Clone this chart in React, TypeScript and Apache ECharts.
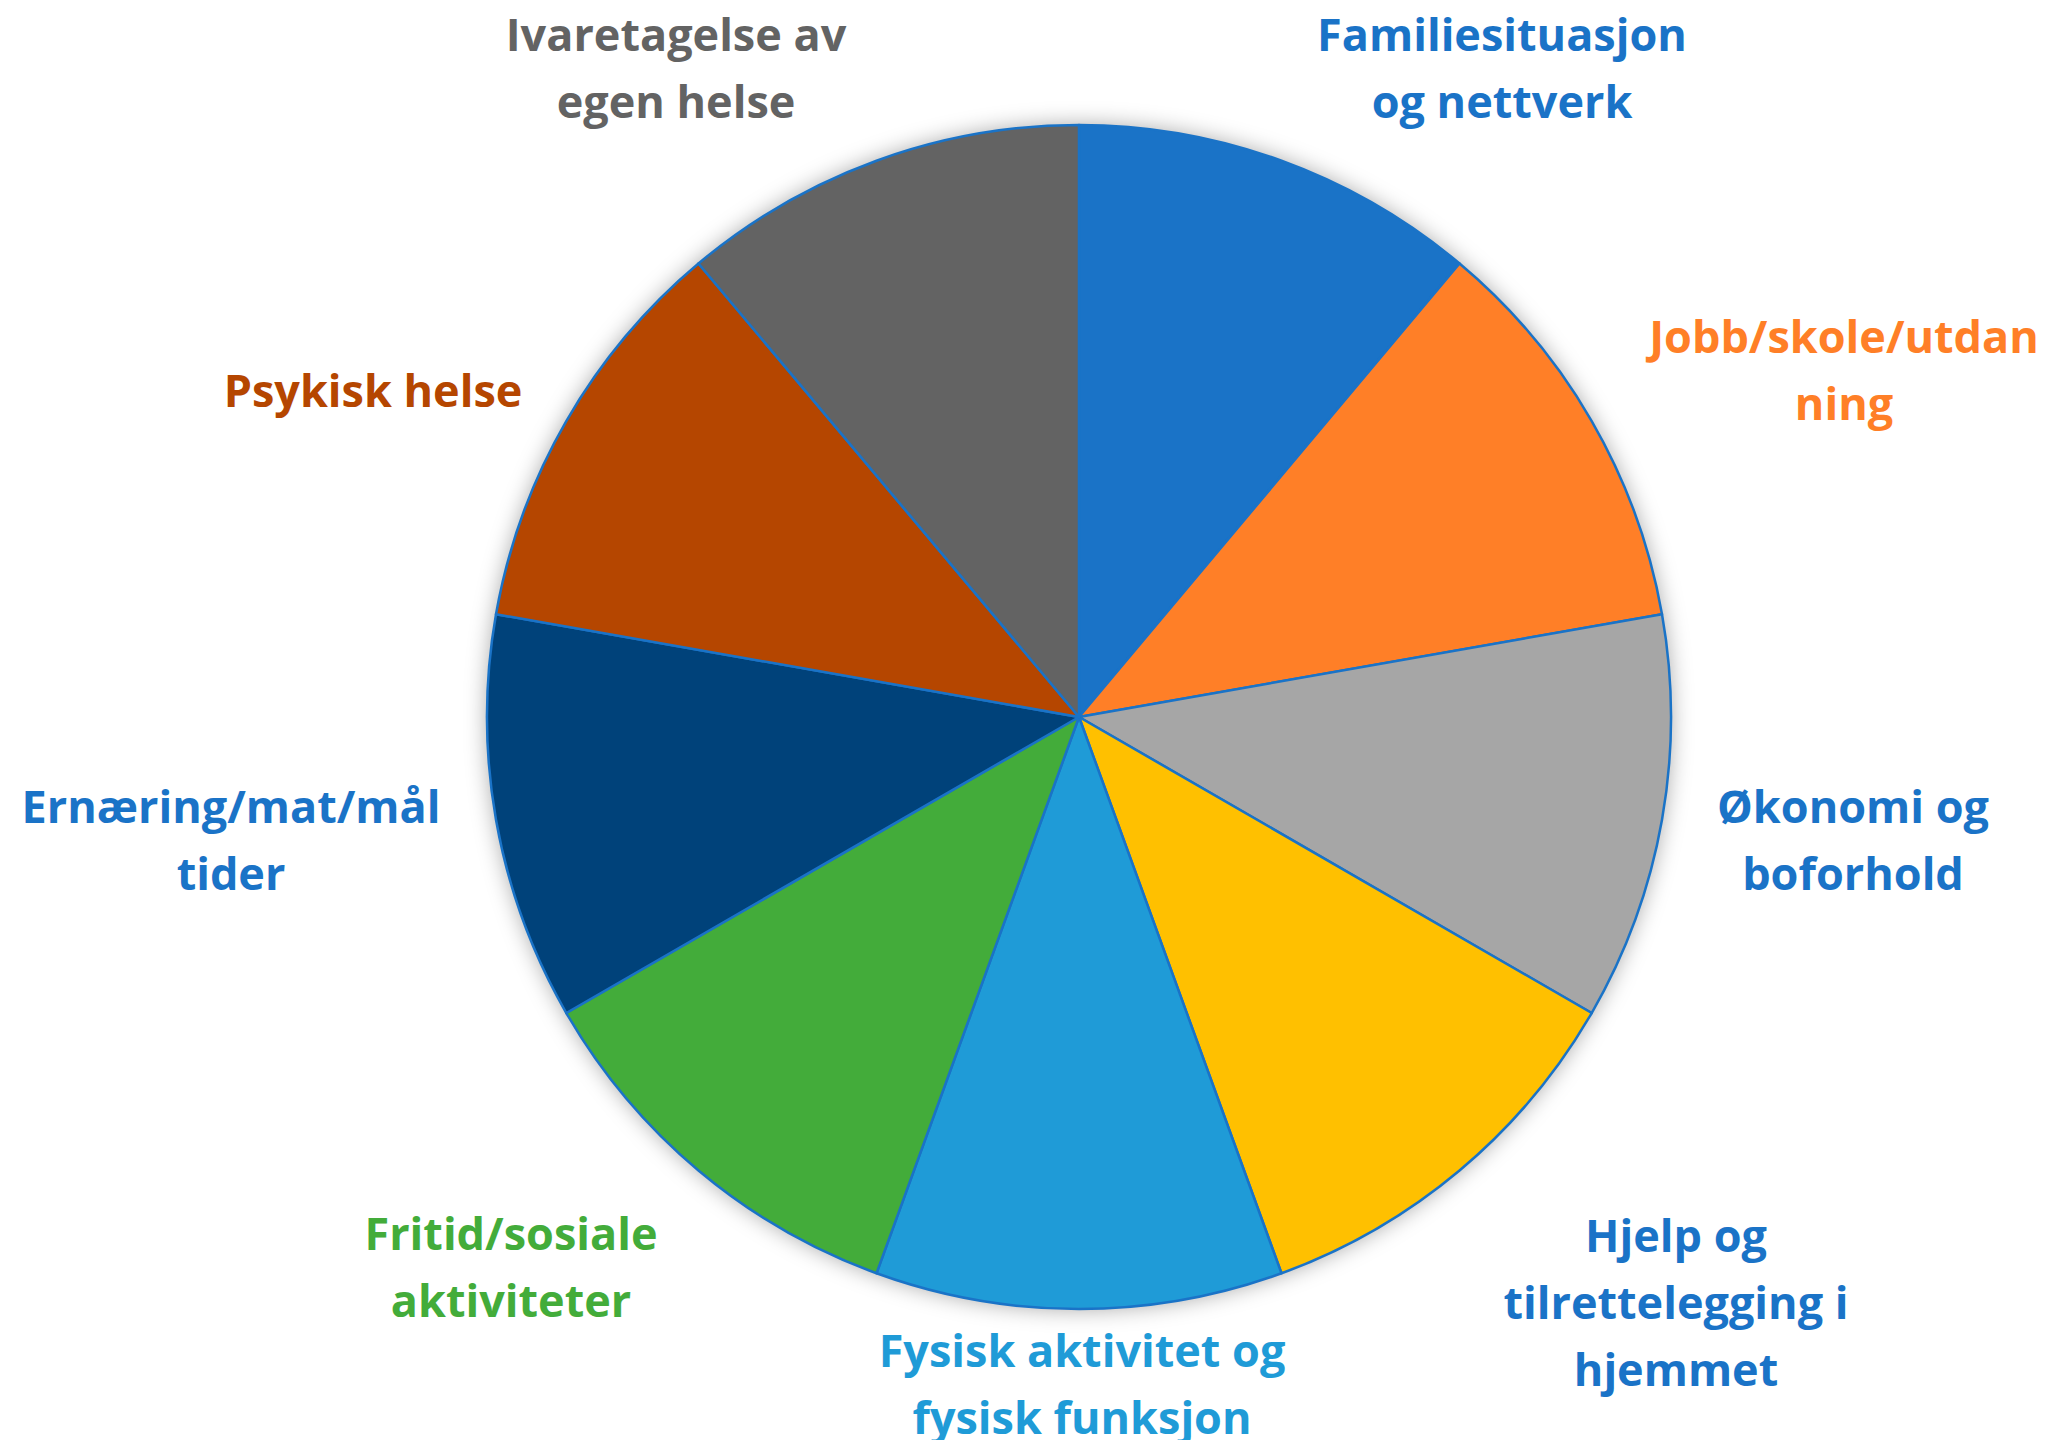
import React, { useEffect, useRef } from "react";
import * as echarts from "echarts";

const categories = [
  "Familiesituasjon\nog nettverk",
  "Jobb/skole/utdan\nning",
  "Økonomi og\nboforhold",
  "Hjelp og\ntilrettelegging i\nhjemmet",
  "Fysisk aktivitet og\nfysisk funksjon",
  "Fritid/sosiale\naktiviteter",
  "Ernæring/mat/mål\ntider",
  "Psykisk helse",
  "Ivaretagelse av\negen helse",
];
const values = [1, 1, 1, 1, 1, 1, 1, 1, 1];
const sliceColors = ["#1A73C7", "#FF7F27", "#A6A6A6", "#FFC000", "#1F9BD7", "#43AC3A", "#00427A", "#B54600", "#636363"];
const labelColors = ["#1A73C7", "#FF7F27", "#1A73C7", "#1A73C7", "#1F9BD7", "#43AC3A", "#1A73C7", "#B54600", "#636363"];
// label centres in px (layout only)
const labelPos = [
  [1502, 67],
  [1844, 369],
  [1853, 839],
  [1676, 1301],
  [1082, 1383],
  [511, 1266],
  [231, 839],
  [373, 389],
  [676, 67],
];

export default function App() {
  const ref = useRef<HTMLDivElement>(null);
  useEffect(() => {
    const chart = echarts.init(ref.current!, null, { renderer: "svg" });
    const center = [1079, 717];
    const radius = 592;
    chart.setOption({
      animation: false,
      backgroundColor: "#ffffff",
      series: [
        {
          type: "pie",
          silent: true,
          z: 1,
          center,
          radius,
          label: { show: false },
          labelLine: { show: false },
          data: [{ value: 1, name: "" }],
          itemStyle: {
            color: "#ffffff",
            shadowBlur: 22,
            shadowColor: "rgba(0,0,0,0.35)",
          },
        },
        {
          type: "pie",
          z: 2,
          center,
          radius,
          startAngle: 90,
          clockwise: true,
          data: categories.map((c, i) => ({
            name: c,
            value: values[i],
            itemStyle: { color: sliceColors[i] },
            label: { color: labelColors[i] },
          })),
          itemStyle: { borderColor: "#1A73C7", borderWidth: 2.5 },
          label: {
            show: true,
            position: "outside",
            formatter: "{b}",
            fontFamily: "Open Sans",
            fontWeight: "bold",
            fontSize: 45,
            lineHeight: 67,
            align: "center",
          },
          labelLine: { show: false },
          labelLayout: (p: any) => ({
            x: labelPos[p.dataIndex][0],
            y: labelPos[p.dataIndex][1],
            align: "center",
            verticalAlign: "middle",
            hideOverlap: false,
          }),
        },
      ],
    });
    return () => chart.dispose();
  }, []);
  return (
    <div
      ref={ref}
      style={{ position: "fixed", left: 0, top: 0, width: 2061, height: 1440 }}
    />
  );
}
